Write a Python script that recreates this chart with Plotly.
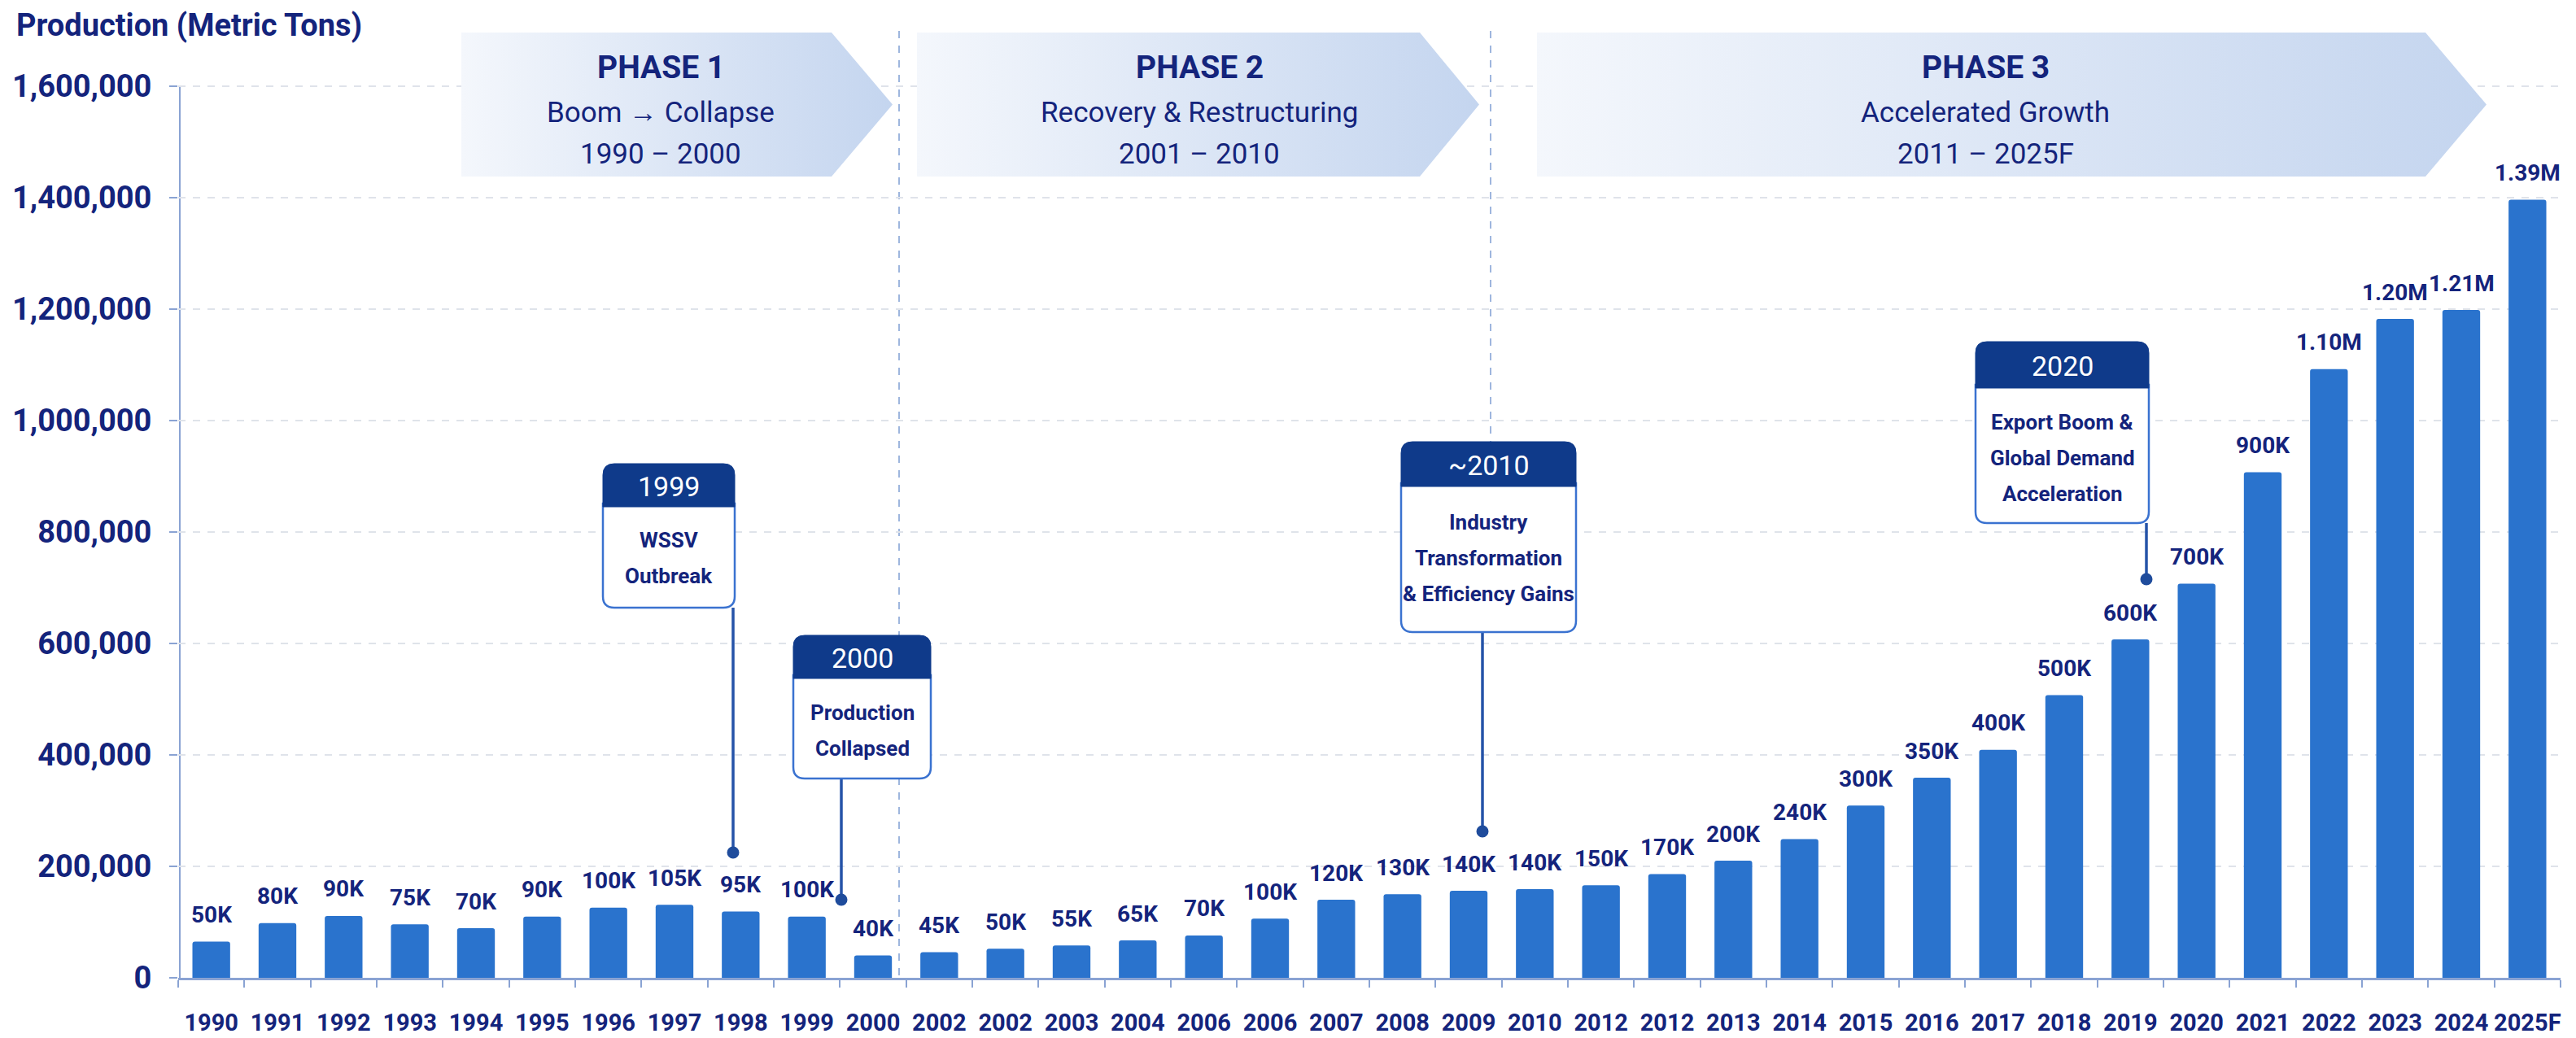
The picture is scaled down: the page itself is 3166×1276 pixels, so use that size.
import plotly.graph_objects as go

# ---------------- data ----------------
years = ["1990", "1991", "1992", "1993", "1994", "1995", "1996", "1997", "1998", "1999", "2000",
         "2002", "2002", "2003", "2004", "2006", "2006", "2007", "2008", "2009", "2010",
         "2012", "2012", "2013", "2014", "2015", "2016", "2017", "2018", "2019", "2020",
         "2021", "2022", "2023", "2024", "2025F"]
values = [65000, 98000, 111000, 96000, 89000, 110000, 126000, 131000, 119000, 110000, 40000,
          46000, 52000, 58000, 67000, 76000, 106000, 140000, 150000, 156000, 159000,
          166000, 186000, 210000, 249000, 309000, 359000, 409000, 507000, 607000, 707000,
          907000, 1092000, 1182000, 1198000, 1396000]
labels = ["50K", "80K", "90K", "75K", "70K", "90K", "100K", "105K", "95K", "100K", "40K",
          "45K", "50K", "55K", "65K", "70K", "100K", "120K", "130K", "140K", "140K",
          "150K", "170K", "200K", "240K", "300K", "350K", "400K", "500K", "600K", "700K",
          "900K", "1.10M", "1.20M", "1.21M", "1.39M"]
y_ticks = [0, 200000, 400000, 600000, 800000, 1000000, 1200000, 1400000, 1600000]
y_title = "Production (Metric Tons)"

phase_titles = ["PHASE 1", "PHASE 2", "PHASE 3"]
phase_subtitles = ["Boom \u2192 Collapse", "Recovery & Restructuring", "Accelerated Growth"]
phase_periods = ["1990 \u2013 2000", "2001 \u2013 2010", "2011 \u2013 2025F"]

callout_years = ["1999", "2000", "~2010", "2020"]
callout_texts = [["WSSV", "Outbreak"],
                 ["Production", "Collapsed"],
                 ["Industry", "Transformation", "& Efficiency Gains"],
                 ["Export Boom &", "Global Demand", "Acceleration"]]

# ---------------- styling / layout geometry (pixels) ----------------
W, H = 3166, 1276
L, R, T, B = 219, 19, 20, 74
NAVY = "#14247c"
BAR = "#2a73cd"
AXIS = "#8aa3d3"
FONT = "Roboto, sans-serif"

# pixel geometry of decorations (overlay axis in pixel units)
banners = [(567, 1022, 1097), (1127, 1745, 1818), (1889, 2981, 3056)]
banner_top, banner_bot = 40, 217
banner_text_x = [812, 1474, 2440]
callouts = [  # x0, x1, header_top, header_bot, body_bot, conn_x, dot_y
    (741, 903, 570, 623, 747, 901, 1048),
    (975, 1144, 781, 834, 957, 1034, 1106),
    (1722, 1937, 543, 598, 777, 1822, 1022),
    (2428, 2641, 420, 477, 643, 2638, 712),
]
callout_text_centers = [686, 898, 686, 563]

fig = go.Figure()

fig.add_trace(go.Bar(
    x=list(range(len(years))), y=values,
    marker=dict(color=BAR, line=dict(width=0)),
    width=0.57, hoverinfo="skip", showlegend=False,
))

# bar value labels
for i, (v, lab) in enumerate(zip(values, labels)):
    fig.add_annotation(x=i, y=v, text=lab, showarrow=False, xref="x", yref="y",
                       yanchor="middle", yshift=33,
                       font=dict(family=FONT, size=28, color=NAVY, weight="bold"))

# phase banners (gradient fill) on pixel overlay axes
for (x0, x1, tip) in banners:
    ym = (banner_top + banner_bot) / 2
    fig.add_trace(go.Scatter(
        x=[x0, x1, tip, x1, x0, x0], y=[banner_top, banner_top, ym, banner_bot, banner_bot, banner_top],
        mode="lines", fill="toself", line=dict(width=0),
        fillgradient=dict(type="horizontal", colorscale=[[0, "#f4f7fc"], [1, "#c4d5ef"]]),
        xaxis="x2", yaxis="y2", hoverinfo="skip", showlegend=False,
    ))

for cx, t1, t2, t3 in zip(banner_text_x, phase_titles, phase_subtitles, phase_periods):
    fig.add_annotation(x=cx, y=83, xref="x2", yref="y2", text=t1, showarrow=False,
                       font=dict(family=FONT, size=39, color=NAVY, weight="bold"))
    fig.add_annotation(x=cx, y=138, xref="x2", yref="y2", text=t2, showarrow=False,
                       font=dict(family=FONT, size=35, color=NAVY))
    fig.add_annotation(x=cx, y=189, xref="x2", yref="y2", text=t3, showarrow=False,
                       font=dict(family=FONT, size=35, color=NAVY))

shapes = []
# phase dividers
shapes.append(dict(type="line", xref="x2", yref="y2", x0=1105, x1=1105, y0=38, y1=1202,
                   line=dict(color="#7f9fd4", width=1.5, dash="dash"), layer="below"))
shapes.append(dict(type="line", xref="x2", yref="y2", x0=1832, x1=1832, y0=38, y1=545,
                   line=dict(color="#7f9fd4", width=1.5, dash="dash"), layer="below"))
# y axis line (stops at top tick)
shapes.append(dict(type="line", xref="x2", yref="y2", x0=221, x1=221, y0=107, y1=1202,
                   line=dict(color=AXIS, width=2), layer="below"))


def rounded_top(x0, x1, y0, y1, r):
    return (f"M{x0},{y1} L{x0},{y0 + r} Q{x0},{y0} {x0 + r},{y0} L{x1 - r},{y0} "
            f"Q{x1},{y0} {x1},{y0 + r} L{x1},{y1} Z")


def rounded_bottom(x0, x1, y0, y1, r):
    return (f"M{x0},{y0} L{x1},{y0} L{x1},{y1 - r} Q{x1},{y1} {x1 - r},{y1} "
            f"L{x0 + r},{y1} Q{x0},{y1} {x0},{y1 - r} Z")


for (x0, x1, ht, hb, bb, cxl, dy) in callouts:
    shapes.append(dict(type="line", xref="x2", yref="y2", x0=cxl, x1=cxl, y0=bb, y1=dy,
                       line=dict(color="#2553a8", width=3.5), layer="above"))
    shapes.append(dict(type="circle", xref="x2", yref="y2", x0=cxl - 7.5, x1=cxl + 7.5,
                       y0=dy - 7.5, y1=dy + 7.5, fillcolor="#1f4c9c",
                       line=dict(width=0), layer="above"))
    shapes.append(dict(type="path", xref="x2", yref="y2", path=rounded_bottom(x0, x1, hb - 4, bb, 14),
                       fillcolor="white", line=dict(color="#3a72d0", width=2.5), layer="above"))
    shapes.append(dict(type="path", xref="x2", yref="y2", path=rounded_top(x0, x1, ht, hb, 14),
                       fillcolor="#0f3a8a", line=dict(color="#0f3a8a", width=1), layer="above"))

for (x0, x1, ht, hb, bb, cxl, dy), yr, lines, cy in zip(callouts, callout_years, callout_texts,
                                                         callout_text_centers):
    fig.add_annotation(x=(x0 + x1) / 2, y=(ht + hb) / 2 + 1, xref="x2", yref="y2", text=yr,
                       showarrow=False, font=dict(family=FONT, size=34, color="white"))
    n = len(lines)
    for k, line in enumerate(lines):
        fig.add_annotation(x=(x0 + x1) / 2, y=cy + (k - (n - 1) / 2) * 44, xref="x2", yref="y2",
                           text=line, showarrow=False,
                           font=dict(family=FONT, size=26, color=NAVY, weight="bold"))

fig.update_layout(
    width=W, height=H,
    margin=dict(l=L, r=R, t=T, b=B, pad=0, autoexpand=False),
    paper_bgcolor="white", plot_bgcolor="white",
    shapes=shapes,
    barcornerradius=3,
    title=dict(text=y_title, x=20 / W, xref="container", xanchor="left",
               y=1 - 31 / H, yref="container", yanchor="middle",
               font=dict(family=FONT, size=38, color=NAVY, weight="bold")),
    xaxis=dict(range=[-0.5, len(years) - 0.5], tickmode="array", automargin=False,
               tickvals=list(range(len(years))), ticktext=years, ticks="",
               showline=True, linecolor=AXIS, linewidth=3, showgrid=False, zeroline=False,
               tickfont=dict(family=FONT, size=29, color=NAVY, weight="bold"),
               ticklabelstandoff=27,
               minor=dict(tick0=-0.5, dtick=1, ticks="outside", ticklen=9,
                          tickcolor=AXIS, tickwidth=1.5, showgrid=False)),
    yaxis=dict(range=[0, 1725000], tickmode="array", tickvals=y_ticks, tickformat=",d",
               automargin=False,
               ticks="outside", ticklen=10, tickcolor=AXIS, tickwidth=1.5,
               showline=False, zeroline=False, showgrid=True,
               gridcolor="#dfe3ea", gridwidth=1.5, griddash="dash",
               tickfont=dict(family=FONT, size=38, color=NAVY, weight="bold"),
               ticklabelstandoff=14),
    xaxis2=dict(overlaying="x", range=[L, W - R], visible=False, fixedrange=True, automargin=False),
    yaxis2=dict(overlaying="y", range=[H - B, T], visible=False, fixedrange=True, automargin=False),
)

fig.write_html("out.html", config={"displayModeBar": False},
               post_script="document.body.style.margin='0';document.body.style.overflow='hidden';")
